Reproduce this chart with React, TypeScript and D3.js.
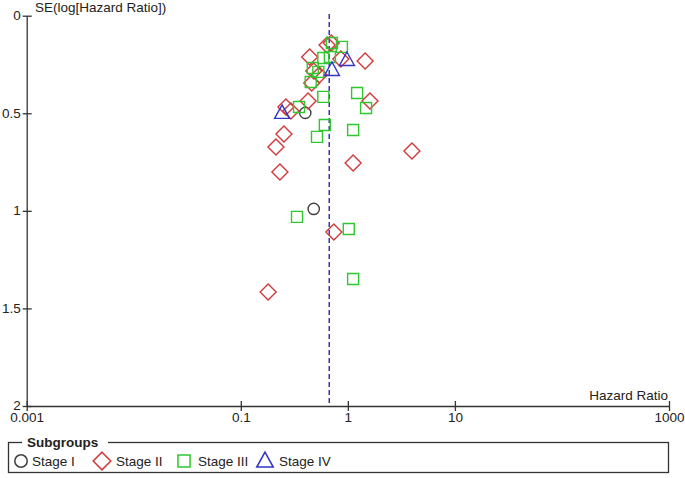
import React, { useEffect, useRef } from "react";
import * as d3 from "d3";

// [hazard ratio, SE(log HR)]
const stageI = [
  [0.4, 0.498],
  [0.48, 0.99],
];
const stageII = [
  [0.64, 0.15],
  [0.7, 0.14],
  [0.44, 0.212],
  [0.86, 0.222],
  [1.45, 0.232],
  [0.48, 0.283],
  [0.54, 0.304],
  [0.46, 0.345],
  [0.425, 0.437],
  [1.61, 0.437],
  [0.264, 0.468],
  [0.294, 0.488],
  [0.253, 0.606],
  [0.213, 0.673],
  [1.12, 0.755],
  [3.97, 0.693],
  [0.232, 0.801],
  [0.74, 1.108],
  [0.18, 1.416],
];
const stageIII = [
  [0.71, 0.14],
  [0.88, 0.16],
  [0.59, 0.217],
  [0.68, 0.212],
  [0.47, 0.268],
  [0.53, 0.288],
  [0.45, 0.34],
  [0.59, 0.416],
  [1.22, 0.396],
  [1.48, 0.473],
  [0.35, 0.468],
  [0.61, 0.56],
  [1.12, 0.586],
  [0.515, 0.621],
  [0.335, 1.031],
  [1.02, 1.093],
  [1.12, 1.349],
];
const stageIV = [
  [0.98, 0.227],
  [0.71, 0.278],
  [0.243, 0.498],
];
const pooledHR = 0.67;
const xTicks = [0.001, 0.1, 1, 10, 1000];
const yTicks = [0, 0.5, 1, 1.5, 2];
const groupNames = ["Stage I", "Stage II", "Stage III", "Stage IV"];
const groupColors = ["#404040", "#d03a3a", "#2ec82e", "#3434c8"];

const FONT = "'Liberation Sans', Arial, sans-serif";
const FS = 13.5;

function markerPath(shape: number) {
  if (shape === 0) return d3.symbol().type(d3.symbolCircle).size(100)();
  if (shape === 1) return "M0,-8L8,0L0,8L-8,0Z";
  if (shape === 2) return "M-5.5,-5.5H5.5V5.5H-5.5Z";
  return "M0,-8L7.5,5.5L-7.5,5.5Z";
}

export default function App() {
  const ref = useRef<SVGSVGElement>(null);

  useEffect(() => {
    const svg = d3.select(ref.current);
    svg.selectAll("*").remove();

    const x = d3.scaleLog().domain([0.001, 1000]).range([26.7, 669]);
    const y = d3.scaleLinear().domain([0, 2]).range([15.7, 406]);

    // y axis
    const ya = svg
      .append("g")
      .attr("transform", "translate(26.7,0)")
      .call(
        d3
          .axisLeft(y)
          .tickValues(yTicks)
          .tickFormat(d => d3.format("")(d as number))
          .tickSizeOuter(0)
      );
    ya.selectAll(".tick line").attr("x1", -4).attr("x2", 5);
    ya.selectAll(".tick text").attr("x", -6).attr("dy", "0.28em");

    // x axis
    const xa = svg
      .append("g")
      .attr("transform", "translate(0,406)")
      .call(
        d3
          .axisBottom(x)
          .tickValues(xTicks)
          .tickFormat(d => String(d))
          .tickSizeOuter(0)
      );
    xa.selectAll(".tick line").attr("y1", -5).attr("y2", 5);
    xa.selectAll(".tick text").attr("y", 6).attr("dy", "0.71em");

    svg
      .selectAll(".domain, .tick line")
      .attr("stroke", "#333")
      .attr("stroke-width", 1.3);
    svg
      .selectAll(".tick text")
      .attr("fill", "#222")
      .attr("font-family", FONT)
      .attr("font-size", FS);

    svg
      .append("text")
      .attr("x", 35)
      .attr("y", 12)
      .attr("font-family", FONT)
      .attr("font-size", FS)
      .attr("fill", "#222")
      .text("SE(log[Hazard Ratio])");

    svg
      .append("text")
      .attr("x", 668)
      .attr("y", 400)
      .attr("text-anchor", "end")
      .attr("font-family", FONT)
      .attr("font-size", FS)
      .attr("fill", "#222")
      .text("Hazard Ratio");

    // pooled estimate
    svg
      .append("line")
      .attr("x1", x(pooledHR))
      .attr("x2", x(pooledHR))
      .attr("y1", 14)
      .attr("y2", 406)
      .attr("stroke", "#3434c8")
      .attr("stroke-width", 1.5)
      .attr("stroke-dasharray", "5,3");

    const groups = [stageI, stageII, stageIII, stageIV];
    groups.forEach((pts, i) => {
      svg
        .append("g")
        .selectAll("path")
        .data(pts)
        .enter()
        .append("path")
        .attr("d", markerPath(i))
        .attr("transform", d => "translate(" + x(d[0]) + "," + y(d[1]) + ")")
        .attr("fill", "none")
        .attr("stroke", groupColors[i])
        .attr("stroke-width", 1.4);
    });

    // legend
    const lg = svg.append("g");
    lg.append("rect")
      .attr("x", 8.5)
      .attr("y", 442.5)
      .attr("width", 660)
      .attr("height", 30)
      .attr("fill", "none")
      .attr("stroke", "#333")
      .attr("stroke-width", 1.3);
    lg.append("rect")
      .attr("x", 22)
      .attr("y", 436)
      .attr("width", 86)
      .attr("height", 12)
      .attr("fill", "#fff");
    lg.append("text")
      .attr("x", 27)
      .attr("y", 447)
      .attr("font-family", FONT)
      .attr("font-size", FS)
      .attr("font-weight", "bold")
      .attr("fill", "#222")
      .text("Subgroups");

    const markerX = [21, 102, 184, 265];
    const textX = [32, 116, 198, 279];
    groupNames.forEach((name, i) => {
      lg.append("path")
        .attr("d", markerPath(i))
        .attr("transform", "translate(" + markerX[i] + ",461) scale(1.1)")
        .attr("fill", "none")
        .attr("stroke", groupColors[i])
        .attr("stroke-width", 1.4);
      lg.append("text")
        .attr("x", textX[i])
        .attr("y", 466)
        .attr("font-family", FONT)
        .attr("font-size", FS)
        .attr("fill", "#222")
        .text(name);
    });
  }, []);

  return (
    <svg
      ref={ref}
      width={685}
      height={478}
      style={{ position: "absolute", left: 0, top: 0, background: "#fff" }}
    />
  );
}
